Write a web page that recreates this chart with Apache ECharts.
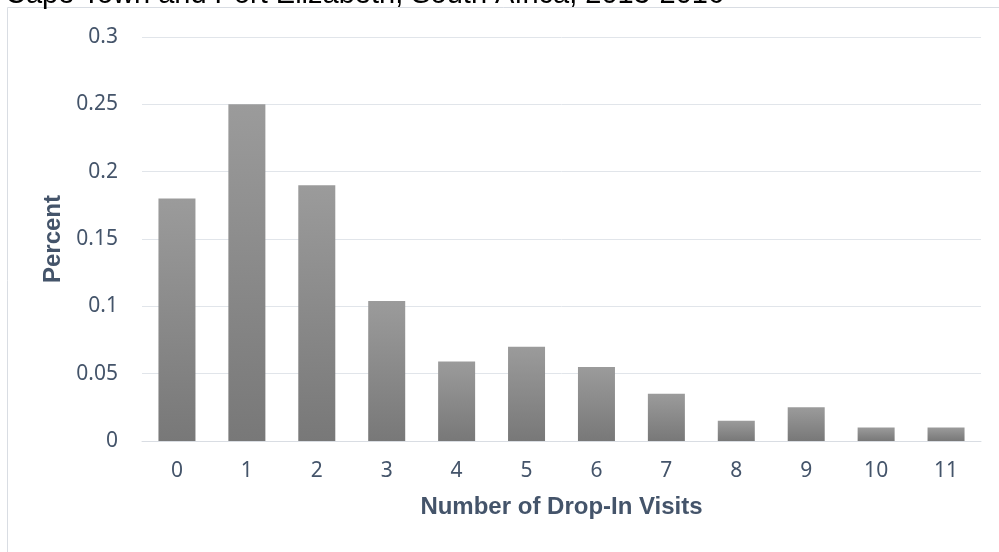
<!DOCTYPE html>
<html lang="en">

<head>
    <meta charset="UTF-8">
    <title>Drop-In Visits</title>
    <style>
        html, body { margin: 0; padding: 0; background: #fff; }
        #main { width: 999px; height: 552px; }
    </style>
</head>

<body>
    <div id="main"></div>
    <script src="https://cdn.jsdelivr.net/npm/echarts@6/dist/echarts.min.js"></script>
    <script>
        // number of drop-in visits and share of participants
        let visits = ['0', '1', '2', '3', '4', '5', '6', '7', '8', '9', '10', '11'];
        let percent = [0.18, 0.25, 0.19, 0.104, 0.059, 0.07, 0.055, 0.035, 0.015, 0.025, 0.01, 0.01];
        let yTicks = [0, 0.05, 0.1, 0.15, 0.2, 0.25, 0.3];

        let labelColor = '#44546a';
        let barFill = new echarts.graphic.LinearGradient(0, 0, 0, 1, [
            { offset: 0, color: '#9b9b9b' },
            { offset: 1, color: '#787878' }
        ]);

        var myChart = echarts.init(document.getElementById('main'));
        option = {
            animation: false,
            title: {
                text: 'Cape Town and Port Elizabeth, South Africa, 2013-2016',
                left: 0,
                top: -25,
                textStyle: {
                    fontFamily: 'Liberation Sans',
                    fontWeight: 'normal',
                    fontSize: 29,
                    color: '#000'
                }
            },
            graphic: [{
                type: 'rect',
                shape: { x: 7.5, y: 7.5, width: 1100, height: 700 },
                style: { fill: 'none', stroke: '#d9dde3', lineWidth: 1 },
                z: -1
            }],
            grid: {
                left: 142,
                right: 18,
                top: 37,
                bottom: 111
            },
            xAxis: {
                type: 'category',
                data: visits,
                name: 'Number of Drop-In Visits',
                nameLocation: 'middle',
                nameGap: 54,
                nameTextStyle: {
                    fontFamily: 'Liberation Sans',
                    fontWeight: 'bold',
                    fontSize: 24,
                    color: labelColor
                },
                axisLine: { lineStyle: { color: '#d9dde3', width: 1 } },
                axisTick: { show: false },
                axisLabel: {
                    margin: 20,
                    fontFamily: 'Noto Sans',
                    fontSize: 21,
                    color: labelColor
                }
            },
            yAxis: {
                type: 'value',
                min: 0,
                max: yTicks[yTicks.length - 1],
                interval: 0.05,
                name: 'Percent',
                nameLocation: 'middle',
                nameGap: 77,
                nameTextStyle: {
                    fontFamily: 'Liberation Sans',
                    fontWeight: 'bold',
                    fontSize: 24,
                    color: labelColor
                },
                axisLine: { show: false },
                axisTick: { show: false },
                splitLine: { lineStyle: { color: '#e1e5ea', width: 1 } },
                axisLabel: {
                    margin: 24,
                    fontFamily: 'Noto Sans',
                    fontSize: 21,
                    color: labelColor,
                    formatter: v => String(Math.round(v * 100) / 100)
                }
            },
            series: [{
                type: 'bar',
                data: percent,
                barWidth: 37,
                itemStyle: { color: barFill }
            }]
        };
        myChart.setOption(option);
    </script>

</body>

</html>
